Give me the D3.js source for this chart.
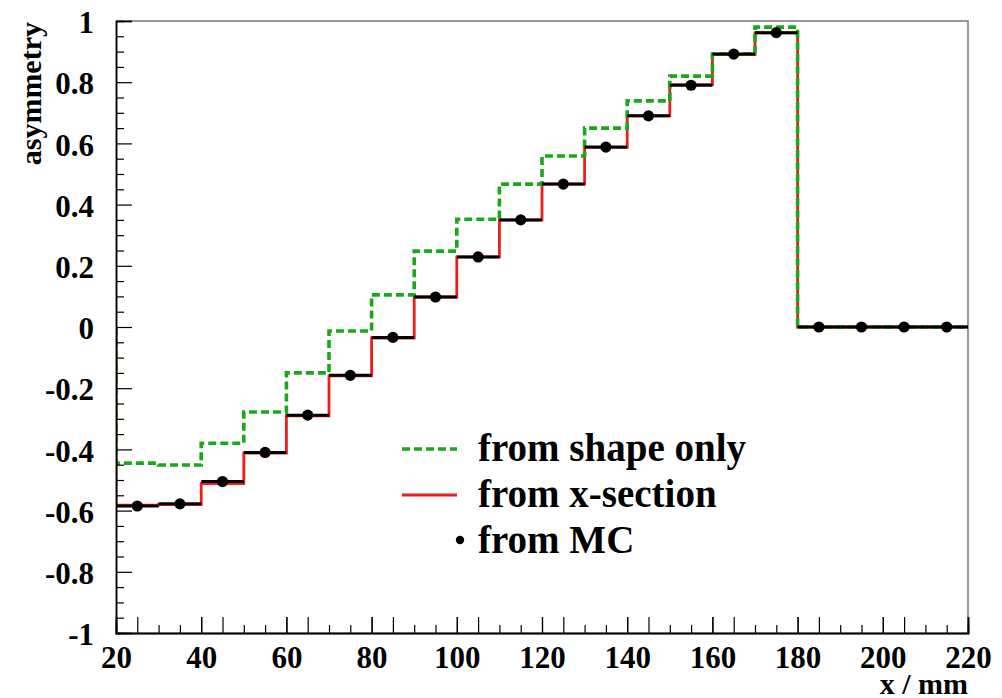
<!DOCTYPE html>
<html><head><meta charset="utf-8">
<script src="https://cdn.jsdelivr.net/npm/d3@7"></script>
<style>
html,body{margin:0;padding:0;background:#fff;}
svg{display:block;}
text{font-family:"Liberation Serif","Times New Roman",serif;font-weight:bold;fill:#000;}
</style></head>
<body>
<svg id="c" width="1002" height="698"></svg>
<script>
// bin edges (mm)
const binEdges = [20,30,40,50,60,70,80,90,100,110,120,130,140,150,160,170,180,190,200,210,220];
// bin centres (mm)
const binCenters = [25,35,45,55,65,75,85,95,105,115,125,135,145,155,165,175,185,195,205,215];
// asymmetry from x-section (red)
const xsection = [-0.582,-0.580,-0.512,-0.412,-0.290,-0.160,-0.036,0.098,0.229,0.350,0.467,0.587,0.690,0.792,0.890,0.961,0,0,0,0];
// asymmetry from shape only (green dashed)
const shapeOnly = [-0.445,-0.451,-0.380,-0.278,-0.150,-0.013,0.105,0.248,0.352,0.467,0.559,0.650,0.739,0.820,0.892,0.980,0,0,0,0];
// asymmetry from MC (black points)
const mc = [-0.585,-0.578,-0.505,-0.410,-0.288,-0.158,-0.034,0.098,0.229,0.350,0.467,0.588,0.690,0.790,0.892,0.962,0,0,0,0];
// axis ticks
const xLabelTicks = [20,40,60,80,100,120,140,160,180,200,220];
const xTallTicks = [25,40,45,60,65,80,85,100,105,120,125,140,145,160,165,180,185,200,205];
const xSmallTicks = [30,35,50,55,70,75,90,95,110,115,130,135,150,155,170,175,190,195,210,215];
const yMajorTicks = [-1,-0.8,-0.6,-0.4,-0.2,0,0.2,0.4,0.6,0.8,1];
const yMinorTicks = [-0.95,-0.9,-0.85,-0.75,-0.7,-0.65,-0.55,-0.5,-0.45,-0.35,-0.3,-0.25,-0.15,-0.1,-0.05,0.05,0.1,0.15,0.25,0.3,0.35,0.45,0.5,0.55,0.65,0.7,0.75,0.85,0.9,0.95];
const legendLabels = ["from shape only","from x-section","from MC"];

const svg = d3.select("#c");
const L = 116, R = 968, T = 21, B = 633;
const x = d3.scaleLinear().domain([20,220]).range([L,R]);
const y = d3.scaleLinear().domain([-1,1]).range([B,T]);

svg.append("rect").attr("width",1002).attr("height",698).attr("fill","#fff");

// frame (top/right)
svg.append("path")
  .attr("d",`M${L},${T}H${R}V${B}`)
  .attr("fill","none").attr("stroke","#777").attr("stroke-width",1.5);

// histogram step paths
function stepPath(vals){
  const p = d3.path();
  p.moveTo(x(binEdges[0]), y(0));
  vals.forEach((v,i)=>{
    p.lineTo(x(binEdges[i]), y(v));
    p.lineTo(x(binEdges[i+1]), y(v));
  });
  p.lineTo(x(binEdges[binEdges.length-1]), y(0));
  return p.toString();
}
svg.append("clipPath").attr("id","pc").append("rect")
  .attr("x",L).attr("y",T-3).attr("width",R-L).attr("height",B-T+3);
const plot = svg.append("g").attr("clip-path","url(#pc)");

plot.append("path").attr("d",stepPath(xsection))
  .attr("fill","none").attr("stroke","#ee1c1c").attr("stroke-width",2.8);
plot.append("path").attr("d",stepPath(shapeOnly))
  .attr("fill","none").attr("stroke","#1aa81a").attr("stroke-width",3.6)
  .attr("stroke-dasharray","8,4");

// MC: horizontal bin-width bars + markers
plot.selectAll("line.mc").data(mc).join("line").attr("class","mc")
  .attr("x1",(d,i)=>x(binEdges[i])).attr("x2",(d,i)=>x(binEdges[i+1]))
  .attr("y1",d=>y(d)).attr("y2",d=>y(d))
  .attr("stroke","#000").attr("stroke-width",3);
plot.selectAll("circle.mc").data(mc).join("circle").attr("class","mc")
  .attr("cx",(d,i)=>x(binCenters[i])).attr("cy",d=>y(d)).attr("r",5.6).attr("fill","#000");

// axes
const fmt = d => String(+(+d).toFixed(1));
const gx = svg.append("g").attr("transform",`translate(0,${B})`);
gx.call(d3.axisBottom(x).tickValues(xLabelTicks).tickSize(-16).tickPadding(13).tickFormat(fmt));
const gx2 = svg.append("g").attr("transform",`translate(0,${B})`);
gx2.call(d3.axisBottom(x).tickValues(xTallTicks).tickSize(-16).tickFormat(""));
const gx3 = svg.append("g").attr("transform",`translate(0,${B})`);
gx3.call(d3.axisBottom(x).tickValues(xSmallTicks).tickSize(-8).tickFormat(""));
const gy = svg.append("g").attr("transform",`translate(${L},0)`);
gy.call(d3.axisLeft(y).tickValues(yMajorTicks).tickSize(-16).tickPadding(22).tickFormat(fmt));
const gy2 = svg.append("g").attr("transform",`translate(${L},0)`);
gy2.call(d3.axisLeft(y).tickValues(yMinorTicks).tickSize(-8).tickFormat(""));

[gx,gx2,gx3,gy,gy2].forEach(g=>{
  g.select(".domain").attr("stroke","#000").attr("stroke-width",1.5);
  g.selectAll(".tick line").attr("stroke","#000").attr("stroke-width",1.2);
  g.selectAll("text").attr("font-size",31).attr("font-family",null).attr("fill","#000");
});
gx.selectAll(".tick:first-of-type line").remove();
gy.selectAll("text").attr("dy","0.38em");

// axis titles
svg.append("text").attr("transform","translate(41,22) rotate(-90)")
  .attr("text-anchor","end").attr("font-size",30).text("asymmetry");
svg.append("text").attr("x",R).attr("y",694).attr("text-anchor","end")
  .attr("font-size",30).text("x / mm");

// legend
const lg = svg.append("g");
const rows = [461,507,553];
lg.append("line").attr("x1",402).attr("x2",457).attr("y1",449).attr("y2",449)
  .attr("stroke","#1aa81a").attr("stroke-width",3.6).attr("stroke-dasharray","8,4");
lg.append("line").attr("x1",402).attr("x2",457).attr("y1",495).attr("y2",495)
  .attr("stroke","#ee1c1c").attr("stroke-width",2.8);
lg.append("circle").attr("cx",460).attr("cy",540).attr("r",4.2).attr("fill","#000");
lg.selectAll("text").data(legendLabels).join("text")
  .attr("x",478).attr("y",(d,i)=>rows[i]).attr("font-size",39).text(d=>d);
</script>
</body></html>
